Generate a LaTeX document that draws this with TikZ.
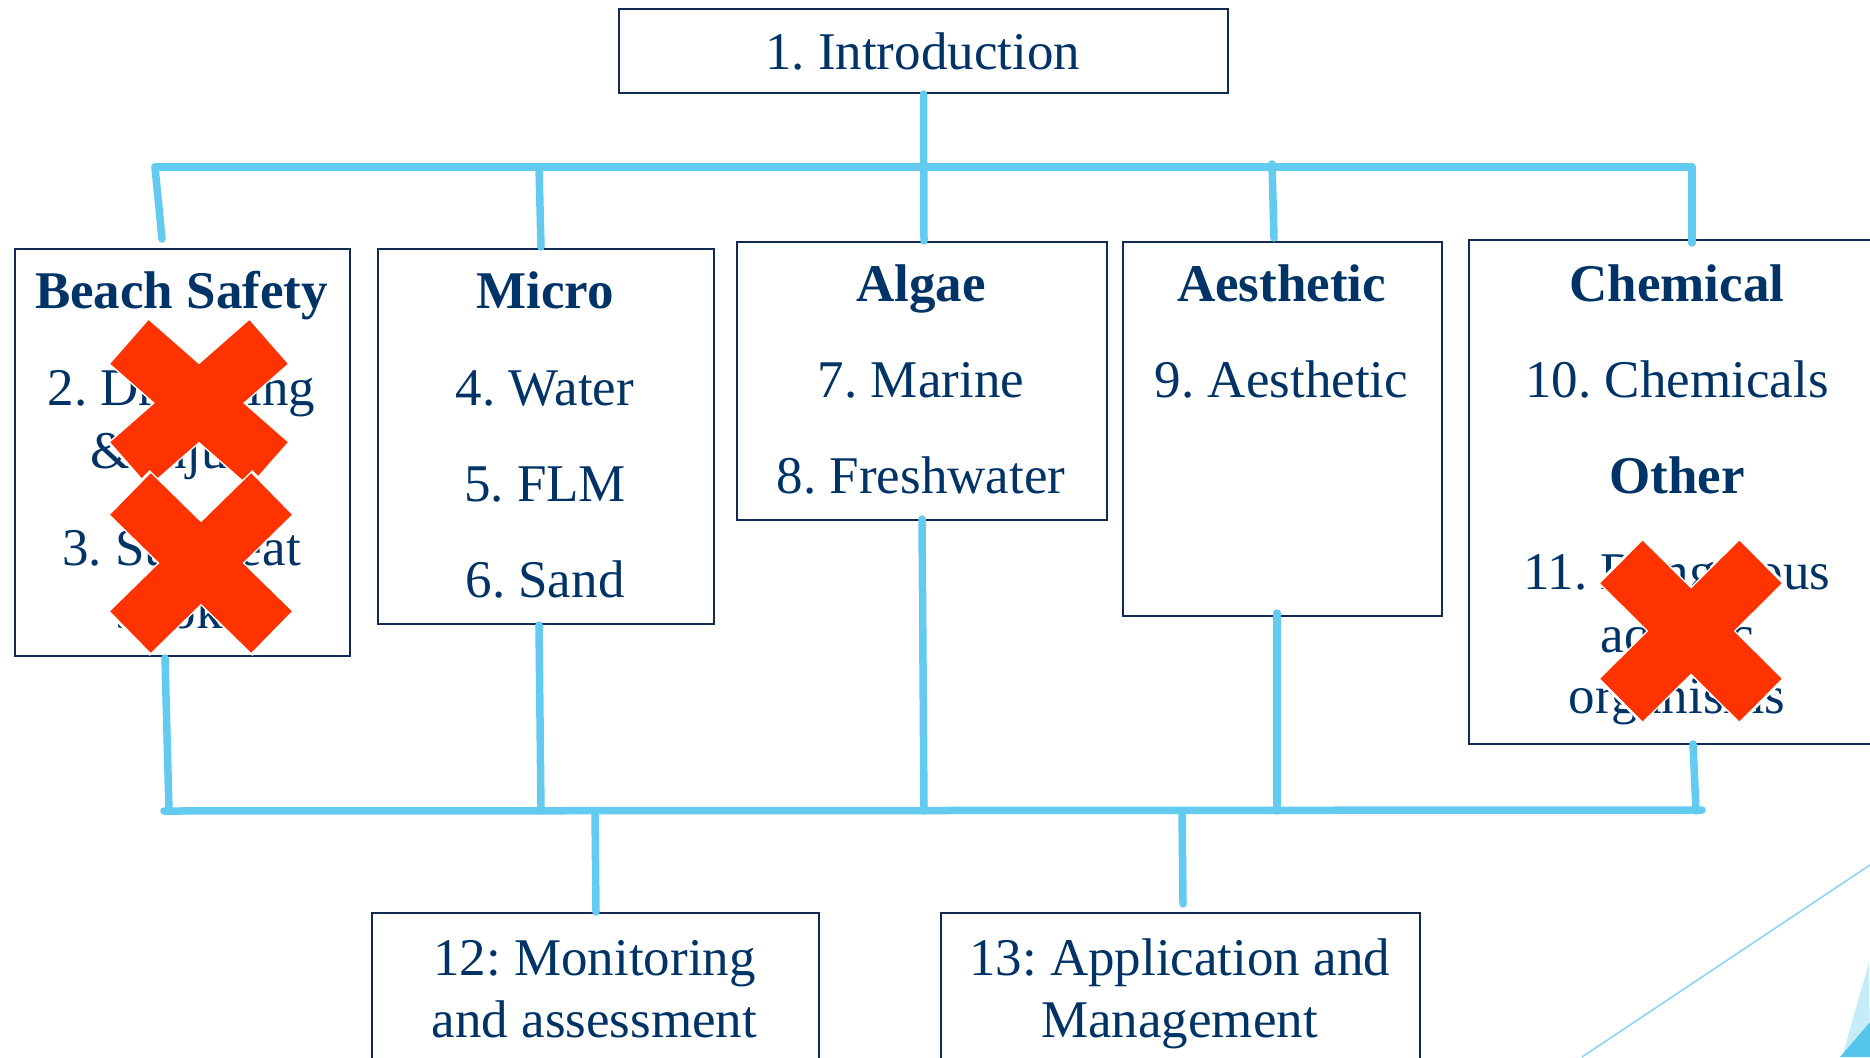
\documentclass[tikz,border=0pt]{standalone}
\usepackage{fontspec}
\setmainfont{Liberation Serif}
\frenchspacing
\definecolor{txtblue}{RGB}{0,51,102}
\definecolor{edge}{RGB}{18,42,84}
\definecolor{link}{RGB}{99,203,239}
\definecolor{xred}{RGB}{255,51,0}
\definecolor{decoline}{RGB}{140,216,242}
\definecolor{decolight}{RGB}{198,236,249}
\definecolor{decodark}{RGB}{86,197,235}
\tikzset{
  box/.style={draw=edge, line width=2pt, inner sep=0pt, anchor=north west, fill=white},
  lbl/.style={text=txtblue, inner sep=0pt, anchor=base, font=\fontsize{53}{62}\selectfont},
  hd/.style={lbl, font=\fontsize{53}{62}\selectfont\bfseries},
  conn/.style={draw=link, line width=7.5pt, line cap=round},
}
% a red X made of two crossing bars, outlined in white
\newcommand\redcross[5]{%
  \draw[white, line width=#5pt+3pt]
    ({#1-1.03*#3},{#2-1.03*#4}) -- ({#1+1.03*#3},{#2+1.03*#4})
    ({#1+1.03*#3},{#2-1.03*#4}) -- ({#1-1.03*#3},{#2+1.03*#4});
  \draw[xred, line width=#5pt]
    ({#1-#3},{#2-#4}) -- ({#1+#3},{#2+#4})
    ({#1+#3},{#2-#4}) -- ({#1-#3},{#2+#4});}
\begin{document}
\begin{tikzpicture}[x=1pt, y=-1pt]
\useasboundingbox (0,0) rectangle (1870,1057);
\clip (0,0) rectangle (1870,1057);

% decorative corner at lower right
\fill[decolight] (1869,962) -- (1842,1057) -- (1870,1057) -- cycle;
\fill[decodark] (1870,1022) -- (1840,1057) -- (1870,1057) -- cycle;
\draw[decoline, line width=1.6pt] (1582,1057) -- (1870,865);

% boxes
\node[box, minimum width=609pt, minimum height=84pt] (intro) at (618,8) {};
\node[box, minimum width=335pt, minimum height=407pt] (bs) at (14,248) {};
\node[box, minimum width=336pt, minimum height=375pt] (mi) at (377,248) {};
\node[box, minimum width=370pt, minimum height=278pt] (al) at (736,241) {};
\node[box, minimum width=319pt, minimum height=374pt] (ae) at (1122,241) {};
\node[box, minimum width=418pt, minimum height=504pt] (ch) at (1468,239) {};
\node[box, minimum width=447pt, minimum height=170pt] (mon) at (371,912) {};
\node[box, minimum width=479pt, minimum height=170pt] (app) at (940,912) {};

% texts
\node[lbl] (tIntro) at (922.5,70) {1. Introduction};

\node[hd]  (hBS) at (181.5,308) {Beach Safety};
\node[lbl] (t2a) at (181.5,405) {2. Drowning};
\node[lbl] (t2b) at (181.5,468) {\& injury};
\node[lbl] (t3a) at (181.5,565) {3. Sun/heat};
\node[lbl] (t3b) at (181.5,628) {stroke};

\node[hd]  (hMI) at (545,308) {Micro};
\node[lbl] (t4) at (545,405) {4. Water};
\node[lbl] (t5) at (545,501) {5. FLM};
\node[lbl] (t6) at (545,597) {6. Sand};

\node[hd]  (hAL) at (921,301) {Algae};
\node[lbl] (t7) at (921,397) {7. Marine};
\node[lbl] (t8) at (921,493) {8. Freshwater};

\node[hd]  (hAE) at (1281.5,301) {Aesthetic};
\node[lbl] (t9) at (1281.5,397) {9. Aesthetic};

\node[hd]  (hCH) at (1677,301) {Chemical};
\node[lbl] (t10) at (1677,397) {10. Chemicals};
\node[hd]  (hOT) at (1677,493) {Other};
\node[lbl] (t11a) at (1677,589) {11. Dangerous};
\node[lbl] (t11b) at (1677,652) {aquatic};
\node[lbl] (t11c) at (1677,713) {organisms};

\node[lbl] (t12a) at (594.5,975) {12: Monitoring};
\node[lbl] (t12b) at (594.5,1037) {and assessment};
\node[lbl] (t13a) at (1179.5,975) {13: Application and};
\node[lbl] (t13b) at (1179.5,1037) {Management};

% junction points on the two buses
\coordinate (tl) at (155,167);
\coordinate (tr) at (1692,167);
\coordinate (tmi) at (539,167);
\coordinate (tae) at (1272,164);
\coordinate (bl) at (164,811);
\coordinate (br) at (1702,810);
\coordinate (bbs) at (169,811);
\coordinate (bmi) at (541,811);
\coordinate (bal) at (924,811);
\coordinate (bae) at (1277,811);
\coordinate (bch) at (1696,811);
\coordinate (bmon) at (595,811);
\coordinate (bapp) at (1182,811);

% upper bus and its branches
\draw[conn] (tl) -- (tr);
\draw[conn] (intro.south) -- ([xshift=188pt]al.north west);
\draw[conn] (tl) -- ([xshift=148pt,yshift=9pt]bs.north west);
\draw[conn] (tmi) -- ([xshift=164pt,yshift=1pt]mi.north west);
\draw[conn] (tae) -- ([xshift=152pt,yshift=3pt]ae.north west);
\draw[conn] (tr) -- ([xshift=224pt,yshift=-4pt]ch.north west);

% lower bus and its branches
\draw[conn] (bl) -- (br);
\draw[conn] ([xshift=151pt,yshift=-1pt]bs.south west) -- (bbs);
\draw[conn] ([xshift=162pt]mi.south west) -- (bmi);
\draw[conn] ([xshift=186pt,yshift=2pt]al.south west) -- (bal);
\draw[conn] ([xshift=155pt,yshift=4pt]ae.south west) -- (bae);
\draw[conn] ([xshift=225pt,yshift=1pt]ch.south west) -- (bch);
\draw[conn] (bmon) -- ([xshift=225pt]mon.north west);
\draw[conn] (bapp) -- ([xshift=243pt,yshift=8pt]app.north west);

% strike-out marks
\redcross{199}{403}{69.5}{61}{58}
\redcross{201}{563}{70.5}{69}{58}
\redcross{1691}{631}{69.5}{69}{60}
\end{tikzpicture}
\end{document}
